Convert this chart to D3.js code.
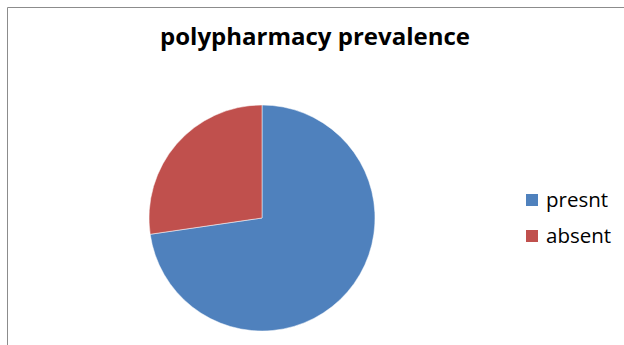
<!DOCTYPE html>
<html>
<head>
<meta charset="utf-8">
<script src="https://cdn.jsdelivr.net/npm/d3@7/dist/d3.min.js"></script>
<style>
  html, body { margin: 0; padding: 0; background: #fff; }
  svg { display: block; }
</style>
</head>
<body>
<script>
// Polypharmacy prevalence (percent of patients)
const categories = ["presnt", "absent"];
const values = [72.7, 27.3];
const colors = ["#4F81BD", "#C0504D"];
const title = "polypharmacy prevalence";

const W = 624, H = 345;
const svg = d3.select("body").append("svg").attr("width", W).attr("height", H);

svg.append("rect").attr("width", W).attr("height", H).attr("fill", "#fff");

// chart frame (top and left edges visible)
svg.append("path")
  .attr("d", `M7.5,${H} V7.5 H${W}`)
  .attr("fill", "none").attr("stroke", "#8c8c8c").attr("stroke-width", 1);

svg.append("text")
  .attr("x", 315).attr("y", 45)
  .attr("text-anchor", "middle")
  .attr("font-family", "'Open Sans', 'Noto Sans', sans-serif")
  .attr("font-weight", "bold")
  .attr("font-size", 24)
  .attr("fill", "#000")
  .text(title);

const cx = 262, cy = 218, r = 113;
const pie = d3.pie().sort(null).value(d => d)(values);
const arc = d3.arc().innerRadius(0).outerRadius(r);
const color = d3.scaleOrdinal().domain(categories).range(colors);

// first slice clockwise from 12 o'clock, second follows
svg.append("g").attr("transform", `translate(${cx},${cy})`)
  .selectAll("path").data(pie).join("path")
  .attr("d", arc)
  .attr("fill", (d, i) => color(categories[i]))
  .attr("stroke", "#fff").attr("stroke-width", 0.5);

const legend = svg.append("g").attr("transform", "translate(526,194)");
const items = legend.selectAll("g").data(categories).join("g")
  .attr("transform", (d, i) => `translate(0,${i * 36})`);
items.append("rect").attr("width", 12).attr("height", 12).attr("fill", d => color(d));
items.append("text")
  .attr("x", 20).attr("y", 13)
  .attr("font-family", "'Open Sans', 'Noto Sans', sans-serif")
  .attr("font-size", 20.5)
  .attr("fill", "#000")
  .text(d => d);
</script>
</body>
</html>
